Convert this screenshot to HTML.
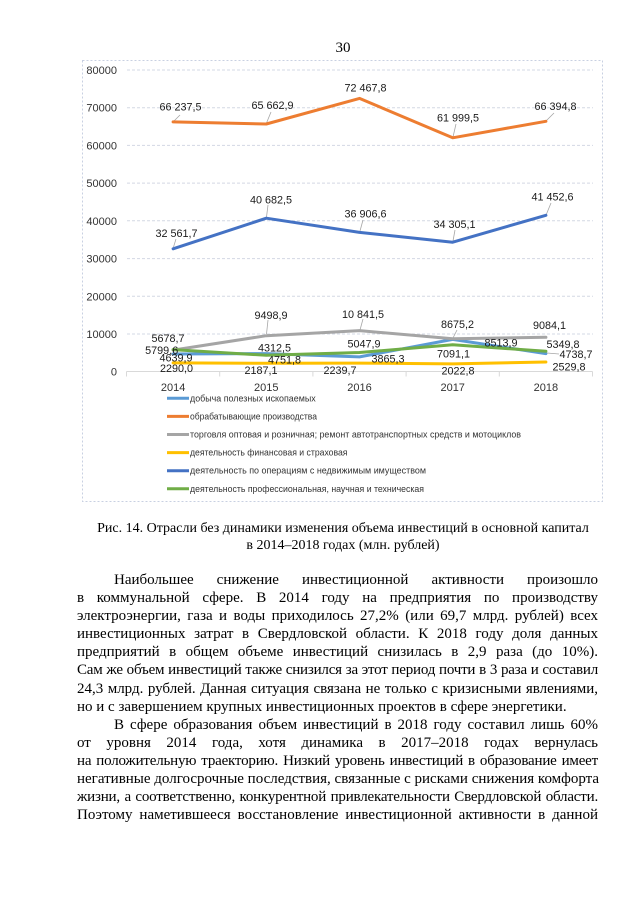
<!DOCTYPE html>
<html><head><meta charset="utf-8">
<style>
html,body{margin:0;padding:0;background:#fff;}
body{width:640px;height:905px;position:relative;overflow:hidden;}
svg{position:absolute;left:0;top:0;}
.serif{font-family:"Liberation Serif","Noto Serif CJK SC",serif;color:#000;}
#pn{position:absolute;left:0;width:686px;top:39px;line-height:18px;font-size:15px;text-align:center;}
#cap{position:absolute;left:0;width:686px;top:521px;font-size:14px;line-height:16.5px;text-align:center;}
#body{position:absolute;left:77px;top:571px;width:521px;font-size:15px;line-height:18.1px;}
#body div{white-space:nowrap;text-align:justify;text-align-last:justify;}
#body div.ind{padding-left:37px;}
#body div.last{text-align:left;text-align-last:left;}
#body div.tight{letter-spacing:-0.2px;}
</style></head><body>
<svg width="640" height="905" viewBox="0 0 640 905" xmlns="http://www.w3.org/2000/svg">
<rect x="82.5" y="60.5" width="520" height="441" fill="none" stroke="#C8D0E2" stroke-width="1" stroke-dasharray="2,2"/>
<g stroke="#D3D8E4" stroke-width="1" stroke-dasharray="3,2">
<line x1="127" y1="70" x2="593" y2="70"/>
<line x1="127" y1="107.7" x2="593" y2="107.7"/>
<line x1="127" y1="145.4" x2="593" y2="145.4"/>
<line x1="127" y1="183.1" x2="593" y2="183.1"/>
<line x1="127" y1="220.8" x2="593" y2="220.8"/>
<line x1="127" y1="258.6" x2="593" y2="258.6"/>
<line x1="127" y1="296.3" x2="593" y2="296.3"/>
<line x1="127" y1="334" x2="593" y2="334"/>
</g>
<g stroke="#D9D9D9" stroke-width="1">
<line x1="126.5" y1="371.5" x2="592.5" y2="371.5"/>
<line x1="126.5" y1="371.5" x2="126.5" y2="376.5"/>
<line x1="219.7" y1="371.5" x2="219.7" y2="376.5"/>
<line x1="312.9" y1="371.5" x2="312.9" y2="376.5"/>
<line x1="406.1" y1="371.5" x2="406.1" y2="376.5"/>
<line x1="499.3" y1="371.5" x2="499.3" y2="376.5"/>
<line x1="592.5" y1="371.5" x2="592.5" y2="376.5"/>
</g>
<g font-family="Liberation Sans, sans-serif" font-size="11" fill="#333" text-anchor="end">
<text x="117" y="74">80000</text>
<text x="117" y="111.7">70000</text>
<text x="117" y="149.4">60000</text>
<text x="117" y="187.1">50000</text>
<text x="117" y="224.8">40000</text>
<text x="117" y="262.6">30000</text>
<text x="117" y="300.3">20000</text>
<text x="117" y="338">10000</text>
<text x="117" y="375.5">0</text>
</g>
<g font-family="Liberation Sans, sans-serif" font-size="11" fill="#333" text-anchor="middle">
<text x="173.1" y="391">2014</text>
<text x="266.3" y="391">2015</text>
<text x="359.5" y="391">2016</text>
<text x="452.7" y="391">2017</text>
<text x="545.9" y="391">2018</text>
</g>
<g stroke="#A6A6A6" stroke-width="0.8" fill="none">
<line x1="180" y1="115" x2="174" y2="121"/>
<line x1="271" y1="112" x2="266.5" y2="123"/>
<line x1="456" y1="124" x2="453" y2="137"/>
<line x1="554" y1="113" x2="546.5" y2="120.5"/>
<line x1="268" y1="205" x2="266.5" y2="217"/>
<line x1="176" y1="239" x2="173.5" y2="247"/>
<line x1="551" y1="203" x2="546.5" y2="214"/>
<line x1="363" y1="220" x2="360" y2="231"/>
<line x1="455" y1="230" x2="453" y2="241"/>
<line x1="268" y1="320" x2="266.5" y2="334"/>
<line x1="363" y1="319" x2="360" y2="330"/>
<line x1="457" y1="330" x2="453" y2="338"/>
<line x1="559" y1="354" x2="547" y2="353"/>
</g>
<g fill="none" stroke-width="3" stroke-linejoin="round" stroke-linecap="round">
<polyline stroke="#5B9BD5" points="173.1,354.0 266.3,353.6 359.5,356.9 452.7,339.4 545.9,353.6"/>
<polyline stroke="#ED7D31" points="173.1,121.9 266.3,124.0 359.5,98.4 452.7,137.8 545.9,121.3"/>
<polyline stroke="#A5A5A5" points="173.1,350.1 266.3,335.7 359.5,330.6 452.7,338.8 545.9,337.3"/>
<polyline stroke="#FFC000" points="173.1,362.9 266.3,363.3 359.5,363.1 452.7,363.9 545.9,362.0"/>
<polyline stroke="#4472C4" points="173.1,248.8 266.3,218.2 359.5,232.4 452.7,242.2 545.9,215.3"/>
<polyline stroke="#70AD47" points="173.1,349.6 266.3,355.3 359.5,352.5 452.7,344.8 545.9,351.3"/>
</g>
<g font-family="Liberation Sans, sans-serif" font-size="10.8" fill="#1a1a1a" text-anchor="middle">
<text x="180.5" y="110.7">66 237,5</text>
<text x="272.5" y="109">65 662,9</text>
<text x="365.5" y="91.3">72 467,8</text>
<text x="458" y="121.3">61 999,5</text>
<text x="555.5" y="110">66 394,8</text>
<text x="176.5" y="237">32 561,7</text>
<text x="271" y="203.3">40 682,5</text>
<text x="365.5" y="217.7">36 906,6</text>
<text x="454.5" y="228">34 305,1</text>
<text x="552.5" y="200.7">41 452,6</text>
<text x="271" y="319">9498,9</text>
<text x="363" y="318">10 841,5</text>
<text x="457.5" y="328">8675,2</text>
<text x="549.5" y="329">9084,1</text>
<text x="168" y="342">5678,7</text>
<text x="161.7" y="354">5799,6</text>
<text x="176" y="361.3">4639,9</text>
<text x="176.5" y="372">2290,0</text>
<text x="261" y="374">2187,1</text>
<text x="274.5" y="351.3">4312,5</text>
<text x="284.5" y="363.3">4751,8</text>
<text x="364" y="347.3">5047,9</text>
<text x="388" y="362.3">3865,3</text>
<text x="340" y="374">2239,7</text>
<text x="453.5" y="357.3">7091,1</text>
<text x="501" y="346.7">8513,9</text>
<text x="458" y="374.7">2022,8</text>
<text x="563" y="348">5349,8</text>
<text x="576" y="358">4738,7</text>
<text x="569" y="370.7">2529,8</text>
</g>
<g stroke-width="3" stroke-linecap="butt">
<line x1="167" y1="398.3" x2="189" y2="398.3" stroke="#5B9BD5"/>
<line x1="167" y1="416.4" x2="189" y2="416.4" stroke="#ED7D31"/>
<line x1="167" y1="434.5" x2="189" y2="434.5" stroke="#A5A5A5"/>
<line x1="167" y1="452.6" x2="189" y2="452.6" stroke="#FFC000"/>
<line x1="167" y1="470.7" x2="189" y2="470.7" stroke="#4472C4"/>
<line x1="167" y1="488.8" x2="189" y2="488.8" stroke="#70AD47"/>
</g>
<g font-family="Liberation Sans, sans-serif" font-size="9" fill="#333">
<text x="190" y="401.3" textLength="125.7" lengthAdjust="spacingAndGlyphs">добыча полезных ископаемых</text>
<text x="190" y="419.4" textLength="127" lengthAdjust="spacingAndGlyphs">обрабатывающие производства</text>
<text x="190" y="437.5" textLength="331" lengthAdjust="spacingAndGlyphs">торговля оптовая и розничная; ремонт автотранспортных средств и мотоциклов</text>
<text x="190" y="455.6" textLength="157.5" lengthAdjust="spacingAndGlyphs">деятельность финансовая и страховая</text>
<text x="190" y="473.7" textLength="236" lengthAdjust="spacingAndGlyphs">деятельность по операциям с недвижимым имуществом</text>
<text x="190" y="491.8" textLength="234" lengthAdjust="spacingAndGlyphs">деятельность профессиональная, научная и техническая</text>
</g>
</svg>
<div id="pn" class="serif">30</div>
<div id="cap" class="serif">Рис. 14. Отрасли без динамики изменения объема инвестиций в основной капитал<br>в 2014–2018 годах (млн. рублей)</div>
<div id="body" class="serif">
<div class="ind">Наибольшее снижение инвестиционной активности произошло</div>
<div>в коммунальной сфере. В 2014 году на предприятия по производству</div>
<div>электроэнергии, газа и воды приходилось 27,2% (или 69,7 млрд. рублей) всех</div>
<div>инвестиционных затрат в Свердловской области. К 2018 году доля данных</div>
<div>предприятий в общем объеме инвестиций снизилась в 2,9 раза (до 10%).</div>
<div class="tight">Сам же объем инвестиций также снизился за этот период почти в 3 раза и составил</div>
<div>24,3 млрд. рублей. Данная ситуация связана не только с кризисными явлениями,</div>
<div class="last">но и с завершением крупных инвестиционных проектов в сфере энергетики.</div>
<div class="ind">В сфере образования объем инвестиций в 2018 году составил лишь 60%</div>
<div>от уровня 2014 года, хотя динамика в 2017–2018 годах вернулась</div>
<div class="tight">на положительную траекторию. Низкий уровень инвестиций в образование имеет</div>
<div>негативные долгосрочные последствия, связанные с рисками снижения комфорта</div>
<div class="tight">жизни, а соответственно, конкурентной привлекательности Свердловской области.</div>
<div>Поэтому наметившееся восстановление инвестиционной активности в данной</div>
</div>
</body></html>
